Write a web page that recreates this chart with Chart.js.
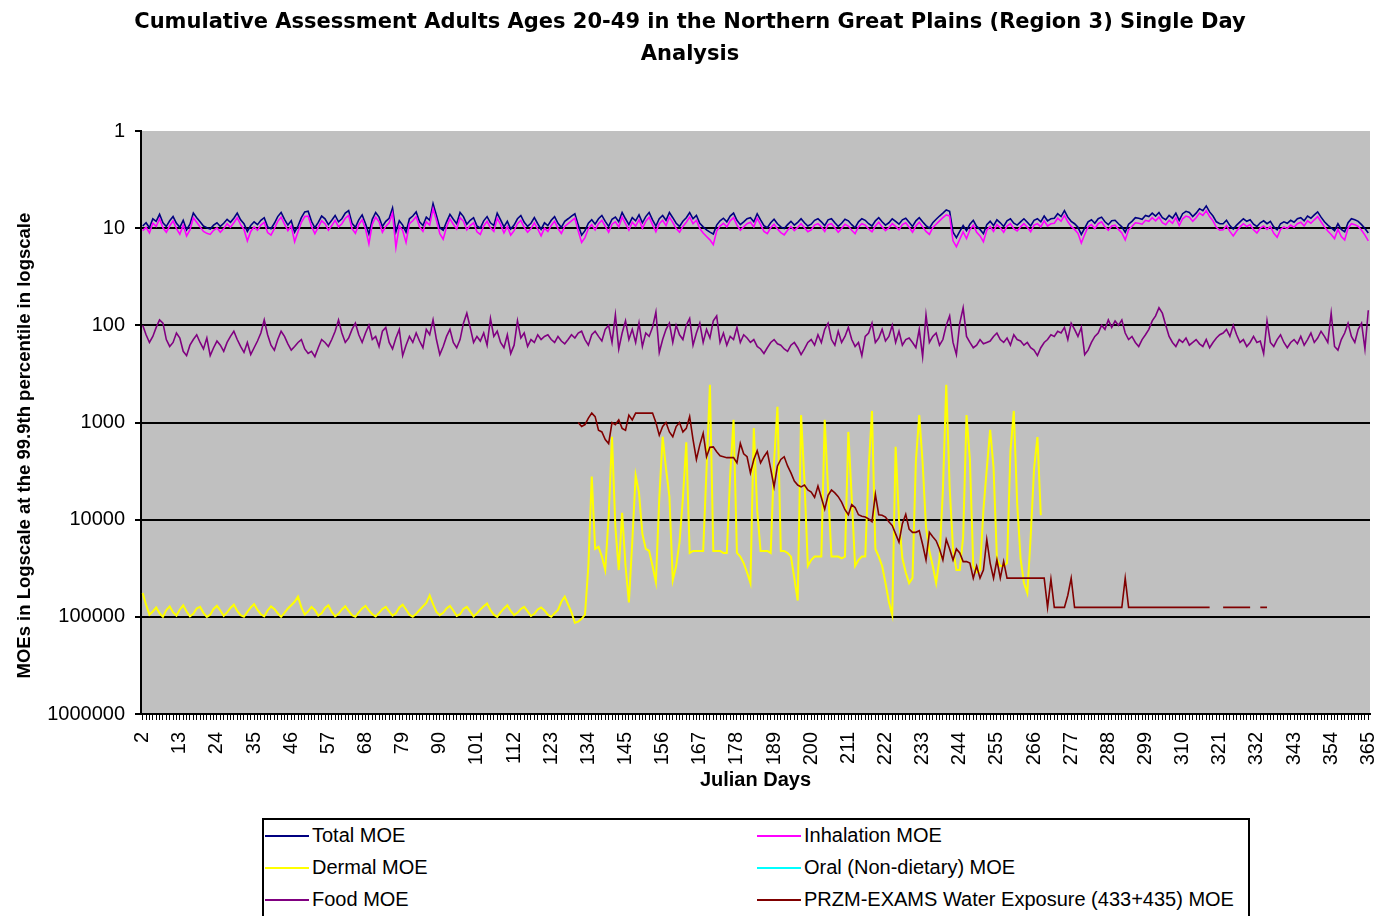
<!DOCTYPE html>
<html><head><meta charset="utf-8">
<script src="https://cdn.jsdelivr.net/npm/chart.js@4.4.1/dist/chart.umd.min.js"></script>
<style>
html,body{margin:0;padding:0;background:#fff;overflow:hidden;}
#wrap{position:relative;width:1380px;height:916px;}
#legend{position:absolute;left:262px;top:818px;width:988px;height:120px;border:2px solid #000;box-sizing:border-box;font-family:'Liberation Sans',Arial,sans-serif;font-size:20px;color:#000;background:#fff;}
.item{position:absolute;height:24px;line-height:24px;white-space:nowrap;}
.item .sw{display:inline-block;width:44px;height:2px;vertical-align:middle;margin-right:3px;position:relative;top:-1px;}
</style></head>
<body><div id="wrap"><canvas id="c" width="1380" height="916"></canvas><div id="legend"></div></div>
<script>
const titleLines = ["Cumulative Assessment Adults Ages 20-49 in the Northern Great Plains (Region 3) Single Day", "Analysis"];
const xTitle = "Julian Days";
const yTitle = "MOEs in Logscale at the 99.9th percentile in logscale";
const firstDay = 2, lastDay = 365, tickStep = 11;
const seriesNames = ["Total MOE","Inhalation MOE","Dermal MOE","Oral (Non-dietary) MOE","Food MOE","PRZM-EXAMS Water Exposure (433+435) MOE"];

const totalMOE = [
9.5,8.8,9.9,8.0,8.5,7.2,8.8,9.6,8.4,7.6,8.9,9.8,8.3,10.4,9.1,7.0,7.8,8.6,9.5,9.9,
10.2,9.3,8.8,9.6,8.9,8.1,8.7,7.9,7.0,8.2,9.0,10.8,9.4,8.6,9.2,8.3,7.8,9.7,10.1,8.9,
7.6,6.9,8.1,9.3,8.4,11.0,9.5,7.8,6.8,6.7,8.5,9.9,8.7,7.5,8.0,9.2,8.3,7.4,8.6,8.0,
7.0,6.6,8.9,9.8,8.2,7.3,9.0,11.5,8.1,6.9,7.7,9.6,8.5,7.9,6.2,10.9,8.4,9.3,11.0,8.0,
7.5,6.8,8.6,9.4,7.7,8.3,5.6,7.4,9.9,10.5,8.6,7.2,8.1,9.0,6.9,7.6,9.1,8.3,7.8,9.5,
10.0,8.4,7.6,8.8,9.4,7.0,8.2,9.7,8.5,10.2,9.3,8.0,7.4,8.7,9.6,8.9,7.8,9.0,10.3,8.8,
9.4,8.3,7.6,8.9,9.8,8.5,8.0,7.5,7.1,9.3,11.8,10.6,8.9,8.2,9.1,8.0,7.4,8.5,9.6,8.1,
7.7,8.6,6.9,8.0,9.2,7.8,8.4,7.3,8.8,7.6,6.9,8.2,9.5,8.0,7.4,8.3,6.9,7.8,8.9,9.6,
8.5,7.8,6.9,8.0,7.4,8.9,9.7,10.4,11.0,11.5,9.3,8.4,7.9,8.6,7.5,7.0,8.3,9.2,8.6,8.0,
7.8,8.6,7.1,8.2,9.4,9.9,8.8,8.1,9.0,9.7,10.1,9.2,8.5,9.3,8.7,8.0,8.8,9.5,9.1,8.3,
8.0,8.6,9.4,8.2,8.0,8.8,9.6,8.9,8.1,8.4,9.2,9.9,8.6,8.0,8.3,9.0,9.5,8.4,7.8,8.6,
9.3,8.8,8.0,8.5,9.1,8.2,7.9,8.7,9.6,8.4,7.8,8.6,9.4,10.0,8.8,8.1,7.5,7.0,6.5,6.7,
11.0,12.5,10.8,9.4,10.6,9.1,8.3,9.6,10.3,11.4,9.2,8.5,9.4,8.2,8.8,9.6,8.4,8.0,8.9,9.3,
8.6,8.0,8.7,9.5,8.3,8.0,8.6,7.5,8.4,8.0,7.9,7.1,7.6,6.6,7.7,8.5,9.0,9.8,11.6,10.0,
8.6,8.2,8.9,8.0,7.7,8.6,9.2,8.4,8.3,9.0,9.7,11.0,9.1,8.5,7.8,7.9,8.1,7.4,7.6,7.0,
7.5,6.9,7.8,8.2,7.4,7.9,7.0,8.3,7.1,6.7,6.9,7.6,7.0,6.3,6.6,5.9,6.8,7.5,8.6,9.0,
9.0,8.3,9.4,10.2,9.3,8.6,8.0,8.5,8.2,9.1,9.6,8.8,8.4,9.0,8.5,9.7,10.4,9.0,8.6,8.9,
8.3,8.7,8.0,7.8,8.4,7.5,7.9,7.3,6.8,7.7,8.6,9.3,9.9,10.6,9.0,10.3,10.9,8.8,8.0,8.2,
8.5,9.2,10.1,11.2
];

const inhalationMOE = [
10.6,9.8,11.2,8.9,9.6,8.0,9.9,11.0,9.5,8.4,10.1,11.5,9.3,12.0,10.4,7.8,8.7,9.7,10.8,11.3,
11.6,10.5,9.9,11.0,10.1,9.0,9.8,8.8,7.8,9.2,10.3,13.5,10.8,9.7,10.5,9.3,8.7,11.1,11.8,10.1,
8.5,7.7,9.1,10.6,9.5,13.8,10.9,8.7,7.6,7.5,9.6,11.4,9.8,8.4,9.0,10.5,9.4,8.3,9.7,9.0,
7.9,7.4,10.1,11.3,9.2,8.2,10.2,14.5,9.1,7.7,8.6,11.0,9.6,8.8,7.0,15.8,9.5,10.6,14.0,9.0,
8.4,7.6,9.7,10.8,8.6,9.3,6.3,8.3,11.4,13.0,9.7,8.0,9.1,10.2,7.8,8.5,10.4,9.4,8.8,10.9,
11.6,9.5,8.5,9.9,10.8,7.9,9.2,11.2,9.6,11.8,10.6,9.0,8.3,9.8,11.0,10.1,8.8,10.2,12.0,10.0,
10.8,9.4,8.5,10.1,11.3,9.6,9.0,8.4,7.9,10.7,14.0,12.5,10.1,9.2,10.4,9.0,8.3,9.6,11.0,9.1,
8.6,9.7,7.7,9.0,10.5,8.7,9.5,8.2,10.0,8.5,7.7,9.2,10.9,9.0,8.3,9.4,7.7,8.7,10.1,11.0,
9.6,8.7,7.7,9.0,8.3,10.1,11.2,12.2,13.2,14.8,10.7,9.5,8.9,9.7,8.4,7.8,9.3,10.5,9.7,9.0,
8.7,9.7,7.9,9.2,10.8,11.4,9.9,9.1,10.2,11.1,11.7,10.5,9.6,10.6,9.8,9.0,9.9,10.9,10.4,9.3,
9.0,9.7,10.8,9.2,9.0,9.9,11.0,10.1,9.1,9.5,10.5,11.4,9.7,9.0,9.3,10.2,10.9,9.5,8.7,9.7,
10.6,9.9,9.0,9.6,10.4,9.2,8.8,9.8,11.0,9.5,8.7,9.7,10.8,11.6,9.9,9.1,8.4,7.8,7.3,7.5,
13.5,15.5,13.0,10.9,12.8,10.4,9.3,11.0,12.0,13.8,10.5,9.6,10.8,9.2,9.9,11.0,9.5,9.0,10.1,10.7,
9.7,9.0,9.8,10.9,9.3,9.0,9.7,8.4,9.5,9.0,8.9,7.9,8.5,7.4,8.6,9.6,10.3,11.3,14.2,11.6,
9.7,9.2,10.1,9.0,8.6,9.7,10.5,9.5,9.3,10.3,11.2,13.2,10.4,9.6,8.8,8.9,9.1,8.3,8.5,7.8,
8.4,7.7,8.8,9.2,8.3,8.9,7.8,9.4,8.0,7.5,7.7,8.5,7.8,7.0,7.4,6.6,7.6,8.4,9.8,10.5,
10.4,9.4,10.8,12.0,10.7,9.7,9.0,9.6,9.2,10.4,11.2,10.0,9.5,10.3,9.6,11.3,12.4,10.3,9.7,10.1,
9.3,9.8,9.0,8.7,9.5,8.4,8.9,8.2,7.6,8.6,9.7,10.7,11.6,12.8,10.3,12.2,13.2,10.0,9.0,9.2,
9.6,10.5,11.8,13.5
];

const dermalMOE = [
57e3,75e3,95e3,88e3,80e3,92e3,100e3,85e3,78e3,90e3,97e3,84e3,76e3,88e3,99e3,93e3,82e3,79e3,91e3,100e3,
95e3,83e3,77e3,86e3,98e3,90e3,81e3,75e3,87e3,96e3,100e3,89e3,80e3,74e3,85e3,94e3,99e3,86e3,78e3,83e3,
92e3,100e3,91e3,82e3,76e3,70e3,62e3,80e3,95e3,88e3,79e3,85e3,97e3,92e3,81e3,76e3,89e3,99e3,93e3,84e3,
78e3,87e3,96e3,100e3,90e3,82e3,77e3,86e3,94e3,99e3,91e3,83e3,79e3,88e3,97e3,92e3,80e3,75e3,84e3,95e3,
100e3,93e3,85e3,78e3,72e3,60e3,74e3,89e3,96e3,91e3,82e3,77e3,86e3,98e3,94e3,83e3,79e3,88e3,99e3,92e3,
84e3,78e3,73e3,85e3,95e3,100e3,90e3,82e3,76e3,87e3,96e3,91e3,83e3,79e3,88e3,98e3,93e3,84e3,80e3,86e3,
95e3,100e3,92e3,85e3,70e3,62e3,75e3,90e3,115e3,112e3,
105e3,95e3,30e3,3600,20e3,19e3,24e3,33e3,9400,1400,
12e3,33e3,8500,30e3,71e3,17e3,3500,5300,14e3,20e3,
21e3,30e3,44e3,6000,1400,3000,5800,42e3,30e3,17e3,
6000,1600,22e3,21e3,21e3,21e3,21e3,3000,410,21e3,
21e3,21e3,22e3,22e3,3500,940,22e3,24e3,28e3,35e3,
45e3,1140,8000,21e3,21e3,21e3,22e3,2500,690,21e3,
21e3,22e3,24e3,40e3,68e3,840,4000,30e3,26e3,24e3,
24e3,24e3,940,5000,24e3,24e3,24e3,25e3,24e3,1250,
6000,30e3,26e3,24e3,24e3,3000,760,20e3,24e3,30e3,
45e3,70e3,96e3,1780,10e3,25e3,35e3,45e3,40e3,2500,
840,2600,12e3,21e3,30e3,45e3,25e3,5000,410,4600,
20e3,33e3,33e3,15e3,840,2400,30e3,35e3,33e3,8000,
3000,1190,2900,25e3,30e3,30e3,28e3,2000,760,6800,
25e3,45e3,57e3,15e3,3000,1410,9000
];

const oralMOE = [];

const foodMOE = [
100,125,150,130,105,88,95,140,165,150,120,135,185,205,160,140,125,150,175,135,
205,170,145,160,185,150,130,115,140,165,190,150,200,170,145,120,88,125,160,180,
140,115,130,155,180,165,150,140,175,195,185,210,170,140,150,165,140,115,88,120,
150,135,110,95,125,150,120,100,140,130,165,115,105,150,175,135,110,205,160,130,
150,120,145,170,110,125,88,140,200,165,130,110,150,170,140,95,75,105,150,130,
145,120,160,85,130,115,150,170,125,195,160,90,135,120,165,140,150,125,140,130,
125,140,150,130,145,155,140,125,135,120,115,140,160,125,115,130,145,110,100,150,
78,175,120,90,140,110,150,95,165,120,130,105,73,190,140,110,95,150,100,125,
140,100,85,160,120,95,150,110,135,90,80,150,120,160,130,140,105,150,125,135,
150,140,165,175,195,170,150,140,155,160,175,185,160,150,170,200,175,150,140,160,
125,150,110,95,140,160,115,150,130,105,140,165,150,205,130,120,95,150,135,110,
145,130,100,150,115,160,140,135,150,170,110,210,78,150,130,120,160,140,100,80,
150,200,95,66,130,150,170,160,140,155,150,145,130,120,140,150,135,160,125,140,
145,160,150,170,180,205,170,150,140,125,130,115,120,105,140,95,110,130,105,200,
180,150,130,120,100,110,88,105,90,100,88,120,140,130,150,165,140,125,110,90,
80,66,75,100,130,150,165,140,150,135,160,150,140,155,165,140,170,150,135,125,
120,110,130,100,125,150,140,165,150,130,150,145,195,90,150,165,140,125,150,170,
150,140,155,130,160,140,120,150,135,115,130,150,75,165,180,140,120,95,130,150,
110,95,175,70
];

const przmFirstDay = 131;
const przmMOE = [
1000,1100,1050,900,800,870,1200,1250,1500,1650,
1000,1050,940,1150,1200,840,940,800,800,800,
800,800,800,1000,1350,1100,1000,1250,1400,1100,
1000,1250,1150,870,1500,2400,1700,1290,2250,1800,
1780,2000,2200,2250,2300,2300,2300,2600,1640,2100,
2250,3300,2400,1950,2600,2250,2000,3000,4600,2800,
2400,2250,2800,3300,4000,4400,4600,4400,4950,5200,
5900,4500,5900,7800,5600,4950,5300,5800,6600,7900,
8900,7000,7500,8900,9200,9400,9800,10500,5500,8900,
9000,9400,10500,11500,14000,17000,11000,8800,12500,13500,
13500,13000,18000,26000,13500,15000,16500,20000,26000,16000,
20000,26000,20000,22000,27000,27000,28000,40000,30000,40000,
33000,16000,28000,40000,26000,40000,27000,40000,40000,40000,
40000,40000,40000,40000,40000,40000,40000,40000,40000,80000,
41000,80000,80000,80000,80000,60000,40000,80000,80000,80000,
80000,80000,80000,80000,80000,80000,80000,80000,80000,80000,80000,80000,
40000,
80000,80000,80000,80000,80000,80000,80000,80000,80000,80000,80000,80000,80000,
80000,80000,80000,80000,80000,80000,80000,80000,80000,80000,80000,80000,
null,null,null,
80000,80000,80000,80000,80000,80000,80000,80000,80000,
null,null,
80000,80000,80000
];

const seriesColors = ["#000080","#ff00ff","#ffff00","#00ffff","#800080","#800000"];

// ---- build ----
const dayLabels = [];
for (let d = firstDay; d <= lastDay; d++) dayLabels.push(String(d));
const przmData = dayLabels.map(l => {
  const k = Number(l) - przmFirstDay;
  return (k >= 0 && k < przmMOE.length) ? przmMOE[k] : null;
});
const seriesData = [totalMOE, inhalationMOE, dermalMOE, oralMOE, foodMOE, przmData];

Chart.defaults.font.family = "'Liberation Sans', Arial, sans-serif";
Chart.defaults.color = '#000';

const bgPlugin = {
  id: 'plotBg',
  beforeDraw(chart) {
    const a = chart.chartArea, c = chart.ctx;
    c.save(); c.fillStyle = '#c0c0c0'; c.fillRect(a.left, a.top, a.right - a.left, a.bottom - a.top); c.restore();
  }
};

const datasets = seriesNames.map((name, i) => ({
  label: name,
  data: seriesData[i],
  borderColor: seriesColors[i],
  backgroundColor: seriesColors[i],
  borderWidth: i === 2 ? 2 : 1.6,
  pointRadius: 0,
  fill: false,
  tension: 0,
  spanGaps: false,
  order: seriesNames.length - i
}));

const chart = new Chart(document.getElementById('c'), {
  type: 'line',
  data: { labels: dayLabels, datasets },
  options: {
    responsive: false,
    animation: false,
    layout: { padding: { left: 10, right: 10, top: 0, bottom: 122 } },
    plugins: {
      legend: { display: false },
      tooltip: { enabled: false },
      title: { display: true, text: titleLines, color: '#000',
        font: { family: "'DejaVu Sans', sans-serif", size: 21, weight: 'bold', lineHeight: 1.524 }, padding: { top: 7, bottom: 60 } }
    },
    scales: {
      x: {
        type: 'category', offset: true,
        afterFit: s => { s.height = 80; s.paddingLeft = 0; s.paddingRight = 0; },
        grid: { display: true, drawOnChartArea: false, drawTicks: true, tickLength: 6, color: '#000', lineWidth: 1 },
        border: { color: '#000', width: 2 },
        ticks: { autoSkip: false, maxRotation: 90, minRotation: 90, padding: 12, font: { size: 20 },
          callback: function (v, i) { return i % tickStep === 0 ? this.getLabelForValue(v) : ''; } },
        title: { display: true, text: xTitle, font: { size: 20, weight: 'bold' }, padding: { top: 2, bottom: 2 } }
      },
      y: {
        type: 'logarithmic', reverse: true, min: 1, max: 1e6,
        afterFit: s => { s.width = 131; },
        grid: { color: c => (c.tick && c.tick.value === 1) ? 'rgba(0,0,0,0)' : '#000', lineWidth: 2, tickColor: '#000', tickLength: 6 },
        border: { color: '#000', width: 2 },
        ticks: { autoSkip: false, padding: 10, font: { size: 20 },
          callback: v => { const l = Math.log10(v); return Math.abs(l - Math.round(l)) < 1e-9 ? String(v) : null; } },
        title: { display: true, text: yTitle + '         ', font: { size: 18.5, weight: 'bold' }, padding: { top: 4, bottom: 4 } }
      }
    }
  },
  plugins: [bgPlugin]
});

// HTML legend built from the chart's datasets (two columns, row-wise)
const leg = document.getElementById('legend');
const colLeft = [1, 493], rowTop = [3, 35, 67];
chart.data.datasets.forEach((ds, i) => {
  const it = document.createElement('div');
  it.className = 'item';
  it.style.left = colLeft[i % 2] + 'px';
  it.style.top = rowTop[Math.floor(i / 2)] + 'px';
  const sw = document.createElement('span');
  sw.className = 'sw'; sw.style.background = ds.borderColor;
  it.appendChild(sw);
  it.appendChild(document.createTextNode(ds.label));
  leg.appendChild(it);
});
</script>
</body></html>
